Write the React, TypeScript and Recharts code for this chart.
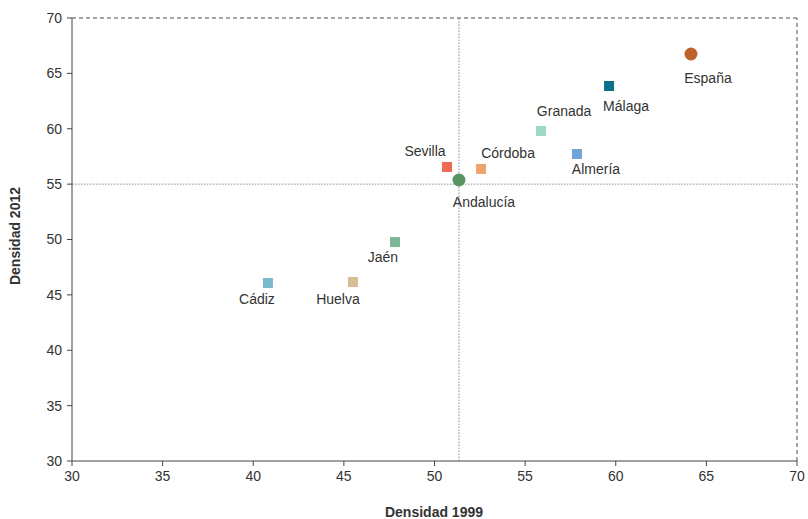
import React from 'react';
import {
  ScatterChart,
  Scatter,
  XAxis,
  YAxis,
  ReferenceLine,
} from 'recharts';

const names = ['España', 'Málaga', 'Granada', 'Almería', 'Sevilla', 'Córdoba', 'Andalucía', 'Jaén', 'Cádiz', 'Huelva'];
const density1999 = [64.15, 59.63, 55.88, 57.86, 50.69, 52.57, 51.35, 47.82, 40.81, 45.5];
const density2012 = [66.75, 63.86, 59.8, 57.72, 56.55, 56.37, 55.37, 49.77, 46.07, 46.16];
const axisTicks = [30, 35, 40, 45, 50, 55, 60, 65, 70];

// reference lines: Andalucía 1999 value and 55 on the vertical axis
const refX = 51.35;
const refY = 55;

const colors = ['#c0622b', '#0e6f8a', '#9dd8c8', '#6fa4d6', '#ee6a55', '#eda36b', '#5a9463', '#7bb797', '#7db9cf', '#d7bd97'];
const circles = ['España', 'Andalucía'];
// label offsets from the marker centre
const labelOffsets: Record<string, [number, number]> = {
  'España': [17, 24],
  'Málaga': [17, 20],
  'Granada': [23, -20],
  'Almería': [19, 15],
  'Sevilla': [-22, -16],
  'Córdoba': [27, -16],
  'Andalucía': [25, 22],
  'Jaén': [-12, 15],
  'Cádiz': [-11, 16],
  'Huelva': [-15, 17],
};

const data = names.map((name, i) => ({
  name,
  x: density1999[i],
  y: density2012[i],
  color: colors[i],
}));

const FONT = '"Liberation Sans", Arial, Helvetica, sans-serif';

const PointShape = (props: any) => {
  const { cx, cy, payload } = props;
  if (cx == null || cy == null) return null;
  const [dx, dy] = labelOffsets[payload.name] || [0, 16];
  const isCircle = circles.includes(payload.name);
  return (
    <g>
      {isCircle ? (
        <circle cx={cx} cy={cy} r={6.5} fill={payload.color} />
      ) : (
        <rect x={cx - 5} y={cy - 5} width={10} height={10} fill={payload.color} />
      )}
      <text
        x={cx + dx}
        y={cy + dy}
        textAnchor="middle"
        dominantBaseline="central"
        fontSize={14}
        fontFamily={FONT}
        fill="#333"
      >
        {payload.name}
      </text>
    </g>
  );
};

const App = () => {
  return (
    <div style={{ position: 'absolute', left: 0, top: 0, width: 808, height: 519, background: '#fff' }}>
      <ScatterChart width={808} height={519} margin={{ top: 18, right: 11, bottom: 0, left: 0 }}>
        <XAxis
          type="number"
          dataKey="x"
          domain={[30, 70]}
          ticks={axisTicks}
          interval={0}
          height={58}
          tickSize={5}
          tickMargin={5}
          stroke="#444"
          tick={{ fill: '#333', fontSize: 14, fontFamily: FONT }}
          label={() => (
            <text x={434} y={512} textAnchor="middle" dominantBaseline="central" fontSize={14} fontWeight="bold" fontFamily={FONT} fill="#333">
              Densidad 1999
            </text>
          )}
        />
        <YAxis
          type="number"
          dataKey="y"
          domain={[30, 70]}
          ticks={axisTicks}
          interval={0}
          width={72}
          tickSize={5}
          tickMargin={5}
          stroke="#444"
          tick={{ fill: '#333', fontSize: 14, fontFamily: FONT }}
          label={() => (
            <text x={15} y={236} transform="rotate(-90 15 236)" textAnchor="middle" dominantBaseline="central" fontSize={14} fontWeight="bold" fontFamily={FONT} fill="#333">
              Densidad 2012
            </text>
          )}
        />
        <ReferenceLine y={70} stroke="#888" strokeWidth={1.5} strokeDasharray="4 3" />
        <ReferenceLine x={70} stroke="#888" strokeWidth={1.5} strokeDasharray="4 3" />
        <ReferenceLine x={refX} stroke="#888" strokeDasharray="1.5 1.5" />
        <ReferenceLine y={refY} stroke="#888" strokeDasharray="1.5 1.5" />
        <Scatter data={data} shape={PointShape} isAnimationActive={false} />
      </ScatterChart>
    </div>
  );
};

export default App;
